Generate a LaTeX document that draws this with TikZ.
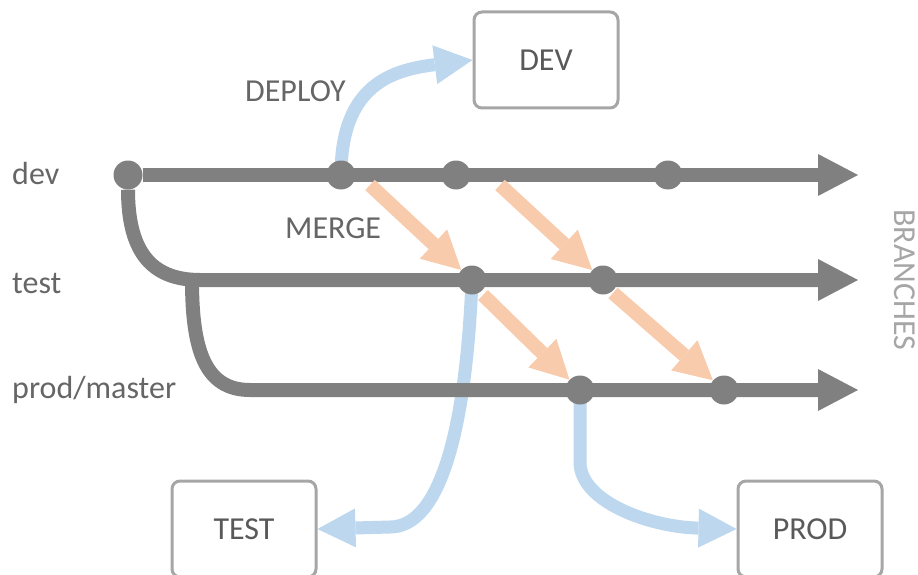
\documentclass[tikz,border=0pt]{standalone}
\usepackage{fontspec}
\setmainfont{Carlito}
\usetikzlibrary{arrows.meta,backgrounds}
\definecolor{branchgray}{HTML}{808080}
\definecolor{deployblue}{HTML}{BDD7EE}
\definecolor{mergeorange}{HTML}{F8CBAD}
\definecolor{boxgray}{HTML}{A6A6A6}
\definecolor{textgray}{HTML}{666666}
\definecolor{darkgray}{HTML}{595959}
\definecolor{lightgray}{HTML}{A6A6A6}
\begin{document}
\begin{tikzpicture}[x=1pt,y=-1pt,
    every node/.style={font=\fontsize{32}{38}\selectfont},
    commit/.style={shape=circle,fill=branchgray,inner sep=0pt,minimum size=29pt},
    branch/.style={draw=branchgray,line width=14pt,-{Triangle[length=40pt,width=42pt,line width=0pt]}},
    merge/.style={draw=mergeorange,line width=14pt,-{Triangle[length=38pt,width=40pt,line width=0pt]}},
    deploy/.style={draw=deployblue,line width=13pt,-{Triangle[length=38pt,width=39pt,line width=0pt]}},
    env/.style={shape=rectangle,draw=boxgray,line width=3pt,rounded corners=8pt,
        minimum width=144pt,minimum height=96pt,text=darkgray},
    lbl/.style={text=textgray,inner sep=0pt,anchor=base west}]
    \useasboundingbox (0,0) rectangle (918,575);
    \clip (0,0) rectangle (918,575);

    % labels
    \node[lbl] (devlbl) at (12,184) {dev};
    \node[lbl] (testlbl) at (12,293) {test};
    \node[lbl] (prodlbl) at (12,398) {prod/master};
    \node[lbl] (deploylbl) at (245,102) {DEPLOY};
    \node[lbl] (mergelbl) at (285,238) {MERGE};
    \node[rotate=-90,anchor=base,text=lightgray,inner sep=0pt] (branches) at (894,280) {BRANCHES};

    % environments
    \node[env] (dev) at (546,60) {DEV};
    \node[env] (test) at (244,529) {TEST};
    \node[env] (prod) at (810,529) {PROD};

    % commits
    \node[commit] (d0) at (128,175) {};
    \node[commit] (d1) at (341,175) {};
    \node[commit] (d2) at (456,175) {};
    \node[commit] (d3) at (668,175) {};
    \node[commit] (t1) at (472,280) {};
    \node[commit] (t2) at (603,280) {};
    \node[commit] (p1) at (580,390) {};
    \node[commit] (p2) at (724,390) {};

    % branches
    \coordinate (devend) at (858,175);
    \coordinate (testend) at (858,280);
    \coordinate (prodend) at (858,390);
    \coordinate (fork) at (192,280);
    \draw[branch] (d0) -- (devend);
    \draw[branch] (d0) .. controls (128,250) and (150,280) .. (200,280) -- (testend);
    \draw[branch] (fork) .. controls (192,350) and (205,390) .. (250,390) -- (prodend);

    % merges
    \coordinate (m1) at (370,185);
    \coordinate (m2) at (500,185);
    \coordinate (m3) at (483,295);
    \coordinate (m4) at (613,293);
    \draw[merge] (m1) -- (t1);
    \draw[merge] (m2) -- (t2);
    \draw[merge] (m3) -- (p1);
    \draw[merge] (m4) -- (p2);

    % deployments
    \begin{pgfonlayer}{background}
    \draw[deploy] (d1.center) .. controls (341,85) and (392,70) .. (dev.west);
    \draw[deploy] (t1.center) .. controls (466,430) and (440,527) .. (390,527) -- (test.east);
    \draw[deploy] (p1.center) -- ++(0,72) .. controls +(0,40) and (650,527) .. (prod.west);
    \end{pgfonlayer}
\end{tikzpicture}
\end{document}
